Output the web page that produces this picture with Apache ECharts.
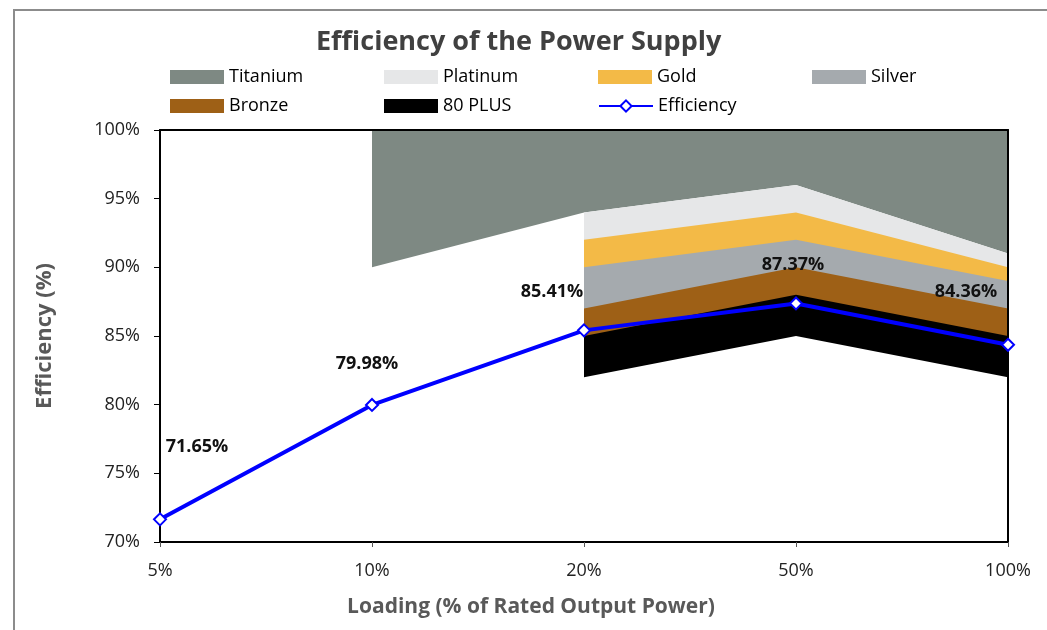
<!DOCTYPE html>
<html>
<head>
<meta charset="utf-8">
<script src="https://cdn.jsdelivr.net/npm/echarts@6/dist/echarts.min.js"></script>
<style>
  html, body { margin: 0; padding: 0; background: #fff; }
  #chart { width: 1047px; height: 630px; }
</style>
</head>
<body>
<div id="chart"></div>
<script>
const categories = ['5%', '10%', '20%', '50%', '100%']
const efficiency = [71.65, 79.98, 85.41, 87.37, 84.36]

// lower bound of each 80 PLUS tier (null where the tier is not defined)
const tierNames = ['Titanium', 'Platinum', 'Gold', 'Silver', 'Bronze', '80 PLUS']
const titaniumMin = [null, 90, 94, 96, 91]
const platinumMin = [null, null, 92, 94, 90]
const goldMin = [null, null, 90, 92, 89]
const silverMin = [null, null, 87, 90, 87]
const bronzeMin = [null, null, 85, 88, 85]
const plus80Min = [null, null, 82, 85, 82]
const yTicks = [70, 75, 80, 85, 90, 95, 100]

const tierMins = [titaniumMin, platinumMin, goldMin, silverMin, bronzeMin, plus80Min]
const tierColors = ['#7e8983', '#e6e7e8', '#f3ba47', '#a5aaae', '#9e6016', '#000000']
const labelOffsets = [[37, -51], [-5, -20], [-32, -17], [-3, -18], [-42, -32]]

const FONT = '"Open Sans", "Noto Sans", sans-serif'

// each tier is filled from its upper edge down to the axis, then covered by the next
const areaSeries = []
const whiteCover = (name, data) => ({
  name: name, type: 'line', data: data, symbol: 'none', silent: true,
  lineStyle: { width: 0 }, itemStyle: { color: '#fff' },
  areaStyle: { color: '#fff', opacity: 1, origin: 'start' }, z: 2
})
tierNames.forEach((name, k) => {
  const upper = tierMins[k].map((v, i) => v == null ? null : (k === 0 ? yTicks[yTicks.length - 1] : tierMins[k - 1][i]))
  areaSeries.push({
    name: name, type: 'line', data: upper, symbol: 'none', silent: true,
    lineStyle: { width: 0 }, itemStyle: { color: tierColors[k] },
    areaStyle: { color: tierColors[k], opacity: 1, origin: 'start' }, z: 2
  })
  if (k === 0) areaSeries.push(whiteCover('cover0', titaniumMin))
})
areaSeries.push(whiteCover('cover1', plus80Min))

// one legend per cell so the columns line up like the original
const legendNames = tierNames.concat(['Efficiency'])
const legends = legendNames.map((n, i) => ({
  left: 170 + (i % 4) * 214, top: 68 + Math.floor(i / 4) * 29, padding: 0,
  itemWidth: 54, itemHeight: 14, selectedMode: false,
  data: [n === 'Efficiency' ? { name: n } : { name: n, icon: 'rect' }],
  textStyle: { fontFamily: FONT, fontSize: 18, color: '#000' }
}))

const chart = echarts.init(document.getElementById('chart'))
chart.setOption({
  animation: false,
  backgroundColor: '#fff',
  textStyle: { fontFamily: FONT },
  title: {
    text: 'Efficiency of the Power Supply',
    left: 316, top: 29, padding: 0,
    textStyle: { fontFamily: FONT, fontSize: 27, fontWeight: 'bold', color: '#404040' }
  },
  graphic: [{
    type: 'rect', silent: true, z: 0,
    shape: { x: 14, y: 10, width: 1200, height: 800 },
    style: { fill: 'none', stroke: '#8c8c8c', lineWidth: 2 }
  }],
  legend: legends,
  grid: { left: 160, top: 130, right: 39, bottom: 88 },
  xAxis: [
    {
      type: 'category', data: categories, boundaryGap: false, z: 10,
      axisLine: { lineStyle: { color: '#000', width: 2 } },
      axisTick: { show: true, length: 5, lineStyle: { color: '#555' } },
      axisLabel: { margin: 20, fontSize: 18, color: '#222', fontFamily: FONT },
      name: 'Loading (% of Rated Output Power)', nameLocation: 'middle', nameGap: 55,
      nameTextStyle: { fontSize: 21, fontWeight: 'bold', color: '#595959', fontFamily: FONT, padding: [0, 106, 0, 0] }
    },
    {
      type: 'category', data: categories, boundaryGap: false, position: 'top', z: 10,
      axisLine: { lineStyle: { color: '#000', width: 2 } },
      axisTick: { show: false }, axisLabel: { show: false }
    }
  ],
  yAxis: [
    {
      type: 'value', min: yTicks[0], max: yTicks[yTicks.length - 1], interval: 5, z: 10,
      axisLine: { show: true, lineStyle: { color: '#000', width: 2 } },
      axisTick: { show: true, length: 6, lineStyle: { color: '#000' } },
      splitLine: { show: false },
      axisLabel: { margin: 20, fontSize: 18, color: '#222', fontFamily: FONT, formatter: '{value}%' },
      name: 'Efficiency (%)', nameLocation: 'middle', nameGap: 104,
      nameTextStyle: { fontSize: 22, fontWeight: 'bold', color: '#595959', fontFamily: FONT }
    },
    {
      type: 'value', min: yTicks[0], max: yTicks[yTicks.length - 1], interval: 5, position: 'right', z: 10,
      axisLine: { show: true, lineStyle: { color: '#000', width: 2 } },
      axisTick: { show: false }, axisLabel: { show: false }, splitLine: { show: false }
    }
  ],
  series: areaSeries.concat([{
    name: 'Efficiency', type: 'line', z: 12,
    data: efficiency.map((v, i) => ({
      value: v,
      label: { offset: labelOffsets[i] }
    })),
    symbol: 'diamond', symbolSize: 12,
    lineStyle: { color: '#0000ff', width: 4 },
    itemStyle: { color: '#fff', borderColor: '#0000ff', borderWidth: 2 },
    label: {
      show: true, position: 'top', fontSize: 18, fontWeight: 'bold', color: '#111', fontFamily: FONT,
      formatter: p => p.value.toFixed(2) + '%'
    }
  }])
})
</script>
</body>
</html>
